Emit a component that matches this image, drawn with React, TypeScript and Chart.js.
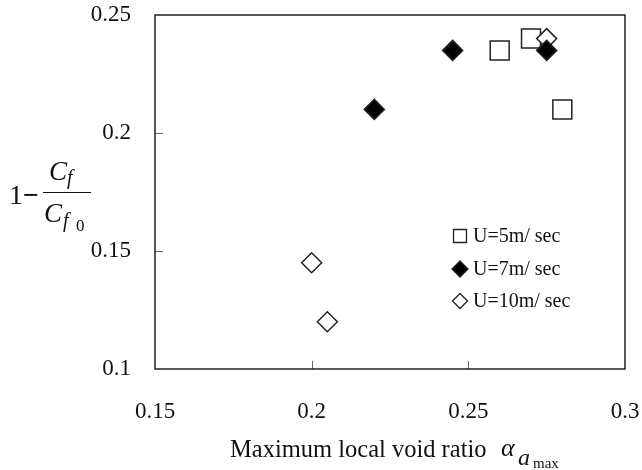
import React, { useEffect, useRef } from 'react';
import { Chart, registerables } from 'chart.js';

Chart.register(...registerables);

const seriesNames = ['U=5m/ sec', 'U=7m/ sec', 'U=10m/ sec'];
const u5X = [0.26, 0.27, 0.28];
const u5Y = [0.235, 0.24, 0.21];
const u7X = [0.22, 0.245, 0.275];
const u7Y = [0.21, 0.235, 0.235];
const u10X = [0.275, 0.2, 0.205];
const u10Y = [0.24, 0.145, 0.12];
const xTickValues = [0.15, 0.2, 0.25, 0.3];
const xTickLabels = ['0.15', '0.2', '0.25', '0.3'];
const yTickValues = [0.1, 0.15, 0.2, 0.25];
const yTickLabels = ['0.1', '0.15', '0.2', '0.25'];

const SERIF = '"Liberation Serif", "Times New Roman", serif';
const INK = '#222';

const toPoints = (xs: number[], ys: number[]) => xs.map((x, i) => ({ x, y: ys[i] }));

const framePlugin = {
  id: 'frame',
  beforeDatasetsDraw(chart: any) {
    const { ctx, chartArea } = chart;
    const { left, right, top, bottom } = chartArea;
    const xs = chart.scales.x;
    const ys = chart.scales.y;
    ctx.save();
    ctx.strokeStyle = '#666';
    ctx.lineWidth = 1;
    for (let i = 1; i < xTickValues.length - 1; i++) {
      const px = Math.round(xs.getPixelForValue(xTickValues[i])) + 0.5;
      ctx.beginPath();
      ctx.moveTo(px, bottom);
      ctx.lineTo(px, bottom - 8);
      ctx.stroke();
    }
    for (let i = 1; i < yTickValues.length - 1; i++) {
      const py = Math.round(ys.getPixelForValue(yTickValues[i])) + 0.5;
      ctx.beginPath();
      ctx.moveTo(left, py);
      ctx.lineTo(left + 8, py);
      ctx.stroke();
    }
    ctx.strokeStyle = INK;
    ctx.lineWidth = 1.5;
    ctx.strokeRect(left, top, right - left, bottom - top);
    ctx.restore();
  },
  afterDraw(chart: any) {
    const { ctx, chartArea } = chart;
    const mx = chartArea.left + 305;
    const tx = chartArea.left + 318;
    const rows = [chartArea.top + 221, chartArea.top + 254, chartArea.top + 286];
    ctx.save();
    ctx.lineWidth = 1.3;
    ctx.strokeStyle = INK;
    ctx.fillStyle = '#fff';
    ctx.beginPath();
    ctx.rect(mx - 6.5, rows[0] - 6.5, 13, 13);
    ctx.fill();
    ctx.stroke();
    const dia = (cy: number, r: number) => {
      ctx.beginPath();
      ctx.moveTo(mx, cy - r);
      ctx.lineTo(mx + r, cy);
      ctx.lineTo(mx, cy + r);
      ctx.lineTo(mx - r, cy);
      ctx.closePath();
    };
    ctx.fillStyle = '#000';
    dia(rows[1], 8);
    ctx.fill();
    ctx.stroke();
    ctx.fillStyle = '#fff';
    dia(rows[2], 7.5);
    ctx.fill();
    ctx.stroke();
    ctx.fillStyle = '#111';
    ctx.font = '20px ' + SERIF;
    ctx.textBaseline = 'middle';
    ctx.textAlign = 'left';
    seriesNames.forEach((n, i) => ctx.fillText(n, tx, rows[i] + 1));
    ctx.restore();
  },
};

export default function App() {
  const canvasRef = useRef<HTMLCanvasElement | null>(null);

  useEffect(() => {
    document.body.style.margin = '0';
    const canvas = canvasRef.current;
    if (!canvas) return;
    const chart = new Chart(canvas, {
      type: 'scatter',
      data: {
        datasets: [
          {
            label: seriesNames[0],
            data: toPoints(u5X, u5Y),
            pointStyle: 'rect',
            pointRadius: 13.4,
            pointHoverRadius: 13.4,
            backgroundColor: '#fff',
            borderColor: INK,
            borderWidth: 1.5,
            order: 2,
          },
          {
            label: seriesNames[1],
            data: toPoints(u7X, u7Y),
            pointStyle: 'rectRot',
            pointRadius: 10,
            pointHoverRadius: 10,
            backgroundColor: '#000',
            borderColor: INK,
            borderWidth: 1.5,
            order: 0,
          },
          {
            label: seriesNames[2],
            data: toPoints(u10X, u10Y),
            pointStyle: 'rectRot',
            pointRadius: 10,
            pointHoverRadius: 10,
            backgroundColor: '#fff',
            borderColor: INK,
            borderWidth: 1.5,
            order: 1,
          },
        ],
      },
      options: {
        responsive: false,
        animation: false,
        devicePixelRatio: 1,
        layout: { padding: { top: 15, right: 17, left: 0, bottom: 0 } },
        plugins: {
          legend: { display: false },
          tooltip: { enabled: false },
          title: { display: false },
        },
        scales: {
          x: {
            type: 'linear',
            min: 0.15,
            max: 0.3,
            afterBuildTicks: (s: any) => {
              s.ticks = xTickValues.map((v) => ({ value: v }));
            },
            afterFit: (s: any) => {
              s.height = 101;
              s.paddingLeft = 0;
              s.paddingRight = 0;
            },
            grid: { display: false, drawTicks: false },
            border: { display: false },
            ticks: {
              autoSkip: false,
              maxRotation: 0,
              padding: 29,
              color: '#111',
              font: { family: SERIF, size: 23 },
              callback: (_v: any, i: number) => xTickLabels[i],
            },
          },
          y: {
            type: 'linear',
            min: 0.1,
            max: 0.25,
            afterBuildTicks: (s: any) => {
              s.ticks = yTickValues.map((v) => ({ value: v }));
            },
            afterFit: (s: any) => {
              s.width = 155;
              s.paddingTop = 0;
              s.paddingBottom = 0;
            },
            grid: { display: false, drawTicks: false },
            border: { display: false },
            ticks: {
              autoSkip: false,
              padding: 24,
              color: '#111',
              font: { family: SERIF, size: 23 },
              callback: (_v: any, i: number) => yTickLabels[i],
            },
          },
        },
      },
      plugins: [framePlugin],
    });
    return () => chart.destroy();
  }, []);

  const abs = (left: number, baseline: number, size: number, extra: any = {}) => ({
    position: 'absolute' as const,
    left,
    top: baseline - 0.8375 * size,
    fontSize: size,
    lineHeight: 1,
    fontFamily: SERIF,
    color: '#111',
    whiteSpace: 'nowrap' as const,
    ...extra,
  });
  const it = { fontStyle: 'italic' };

  return (
    <div style={{ position: 'fixed', left: 0, top: 0, width: 642, height: 470, background: '#fff' }}>
      <canvas ref={canvasRef} width={642} height={470} style={{ position: 'absolute', left: 0, top: 0 }} />
      <span style={abs(9, 204, 28)}>1</span>
      <span style={abs(23, 204, 28, { fontWeight: 'bold' })}>−</span>
      <div style={{ position: 'absolute', left: 43, top: 191.5, width: 48, height: 1.3, background: '#111' }} />
      <span style={abs(49, 181, 27, it)}>C</span>
      <span style={abs(67, 184, 20, it)}>f</span>
      <span style={abs(44, 223, 27, it)}>C</span>
      <span style={abs(63, 227, 20, it)}>f</span>
      <span style={abs(76, 231, 17)}>0</span>
      <span style={abs(230, 458, 24.5)}>Maximum local void ratio</span>
      <span style={abs(501, 457, 26, it)}>α</span>
      <span style={abs(518, 465, 24, it)}>a</span>
      <span style={abs(533, 469, 15)}>max</span>
    </div>
  );
}
